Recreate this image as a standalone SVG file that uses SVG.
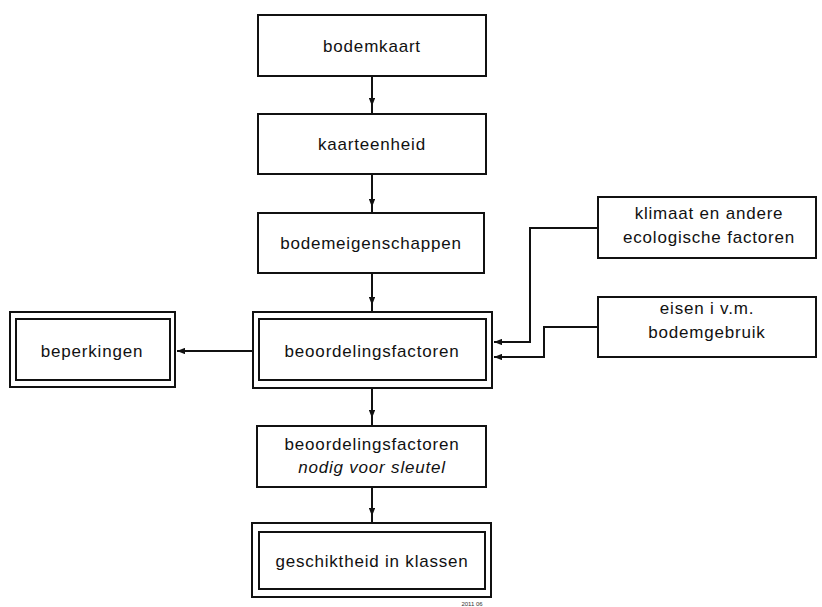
<svg xmlns="http://www.w3.org/2000/svg" width="822" height="607" viewBox="0 0 822 607">
<style>
.box{fill:#fff;stroke:#111;stroke-width:2}
.t{font-family:"Liberation Sans",Arial,sans-serif;font-size:17px;letter-spacing:0.8px;fill:#111;text-anchor:middle}
.i{font-style:italic}
.c{fill:none;stroke:#111;stroke-width:2}
.s{font-family:"Liberation Sans",Arial,sans-serif;font-size:6px;fill:#333}
</style>
<defs>
<marker id="ah" viewBox="0 0 10 8" refX="10" refY="4" markerWidth="8" markerHeight="6.4" markerUnits="userSpaceOnUse" orient="auto">
<path d="M0,0 L10,4 L0,8 Z" fill="#111"/>
</marker>
</defs>
<rect width="822" height="607" fill="#fff"/>
<g id="connectors">
<path class="c" d="M372,76 L372,106 L372,114" marker-mid="url(#ah)"/>
<path class="c" d="M372,174 L372,207 L372,213" marker-mid="url(#ah)"/>
<path class="c" d="M372,273 L372,305 L372,312" marker-mid="url(#ah)"/>
<path class="c" d="M372,388 L372,418 L372,426" marker-mid="url(#ah)"/>
<path class="c" d="M372,487 L372,516 L372,523" marker-mid="url(#ah)"/>
<path class="c" d="M253,351 L177,351" marker-end="url(#ah)"/>
<path class="c" d="M598,228 L530,228 L530,342 L494,342" marker-end="url(#ah)"/>
<path class="c" d="M598,327 L544,327 L544,357 L494,357" marker-end="url(#ah)"/>
</g>
<g id="bodemkaart">
<rect class="box" x="258" y="15" width="228" height="61"/>
<text class="t" x="372" y="52">bodemkaart</text>
</g>
<g id="kaarteenheid">
<rect class="box" x="258" y="114" width="228" height="60"/>
<text class="t" x="372" y="150">kaarteenheid</text>
</g>
<g id="bodemeigenschappen">
<rect class="box" x="258" y="213" width="226" height="60"/>
<text class="t" x="371" y="249">bodemeigenschappen</text>
</g>
<g id="beoordelingsfactoren">
<rect class="box" x="253" y="312" width="239" height="76"/>
<rect class="box" x="259" y="319" width="227" height="61"/>
<text class="t" x="372" y="357">beoordelingsfactoren</text>
</g>
<g id="beperkingen">
<rect class="box" x="10" y="312" width="165" height="75"/>
<rect class="box" x="16" y="319" width="154" height="61"/>
<text class="t" x="92" y="357">beperkingen</text>
</g>
<g id="klimaat">
<rect class="box" x="598" y="197" width="218" height="61"/>
<text class="t" x="709" y="219">klimaat en andere</text>
<text class="t" x="709" y="243">ecologische factoren</text>
</g>
<g id="eisen">
<rect class="box" x="598" y="297" width="218" height="60"/>
<text class="t" x="707" y="314">eisen i v.m.</text>
<text class="t" x="707" y="338">bodemgebruik</text>
</g>
<g id="beoordelingsfactoren-sleutel">
<rect class="box" x="257" y="426" width="229" height="61"/>
<text class="t" x="372" y="450">beoordelingsfactoren</text>
<text class="t i" x="372" y="473">nodig voor sleutel</text>
</g>
<g id="geschiktheid">
<rect class="box" x="252" y="523" width="239" height="74"/>
<rect class="box" x="259" y="532" width="226" height="57"/>
<text class="t" x="372" y="567">geschiktheid in klassen</text>
</g>
<text class="s" x="472" y="606" text-anchor="middle">2011 06</text>
</svg>
